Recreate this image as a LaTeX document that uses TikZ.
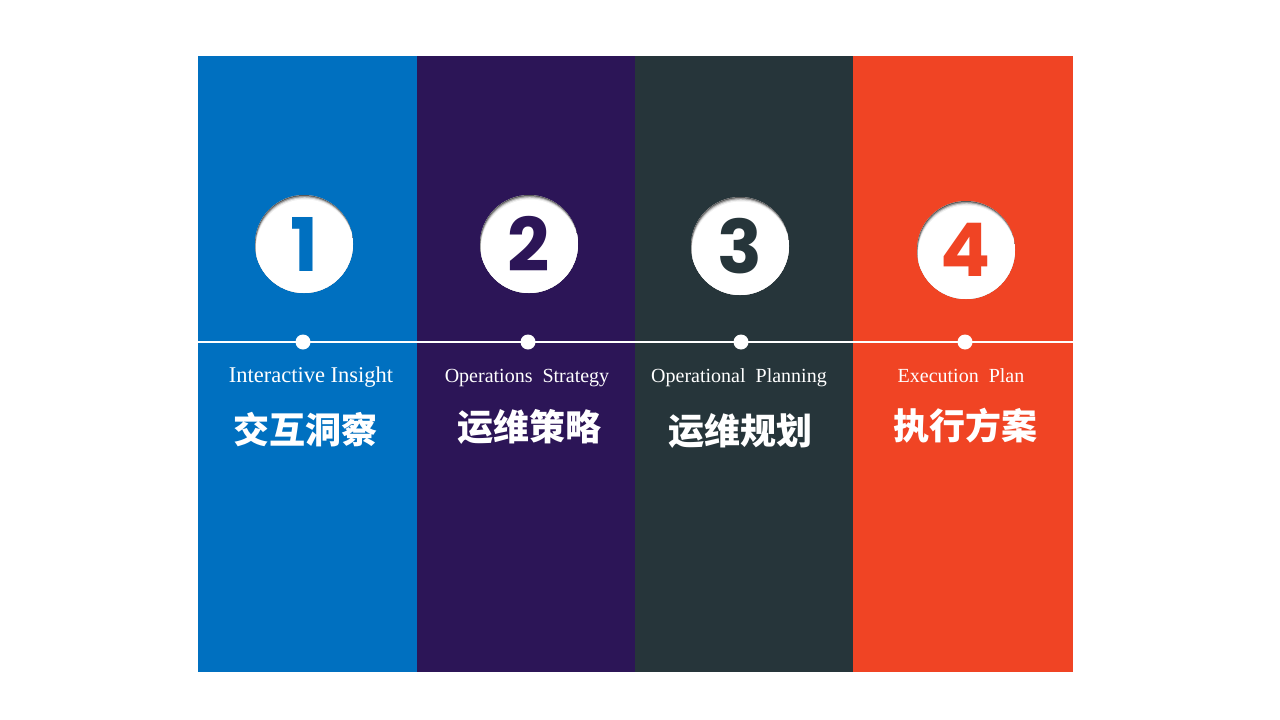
\documentclass[tikz,border=0pt]{standalone}
\usepackage{fontspec}
\setmainfont{Liberation Serif}
\newfontfamily\cjk{Noto Sans CJK SC}
\newfontfamily\numfont{Poppins}
\usepackage{xcolor}
\usepackage{tikz}
\usetikzlibrary{positioning}

\definecolor{stepblue}{HTML}{0070C0}
\definecolor{steppurple}{HTML}{2C1557}
\definecolor{stepslate}{HTML}{26353A}
\definecolor{stepred}{HTML}{F04424}

\begin{document}
\begin{tikzpicture}[
    x=1pt, y=-1pt,
    panel/.style={rectangle, draw=none, anchor=north west, inner sep=0pt, minimum width=219pt, minimum height=616pt},
    disc/.style={circle, fill=white, inner sep=0pt, minimum size=98pt, font=\numfont\bfseries\fontsize{74}{74}\selectfont,
        path picture={
            \fill[black!65] (path picture bounding box.center) circle[radius=52pt];
            \fill[black!40] ([shift={(0.3pt,-1pt)}]path picture bounding box.center) circle[radius=49pt];
            \fill[black!18] ([shift={(0.6pt,-2.2pt)}]path picture bounding box.center) circle[radius=49pt];
            \fill[black!6] ([shift={(0.8pt,-3.3pt)}]path picture bounding box.center) circle[radius=49pt];
            \fill[white] ([shift={(1pt,-4.5pt)}]path picture bounding box.center) circle[radius=49pt];
        }},
    dot/.style={circle, fill=white, inner sep=0pt, minimum size=15pt},
    en/.style={text=white, anchor=base, inner sep=0pt, font=\fontsize{20}{24}\selectfont},
    zh/.style={text=white, anchor=base, inner sep=0pt, font=\cjk\bfseries\fontsize{36}{40}\selectfont}
]

\useasboundingbox[fill=white] (0,0) rectangle (1280,720);

% Panels
\node[panel, fill=stepblue] (p1) at (198,56) {};
\node[panel, fill=steppurple] (p2) at (417,56) {};
\node[panel, fill=stepslate] (p3) at (635,56) {};
\node[panel, fill=stepred, minimum width=220pt] (p4) at (853,56) {};

% Numbered discs
\node[disc, text=stepblue] (n1) at (304,244) {1};
\node[disc, text=steppurple] (n2) at (529,244) {2};
\node[disc, text=stepslate] (n3) at (740,246) {3};
\node[disc, text=stepred] (n4) at (966,250) {4};

% Timeline
\coordinate (lineL) at (198,342);
\coordinate (lineR) at (1073,342);
\draw[white, line width=1.2pt] (lineL) -- (lineR);
\node[dot] (d1) at (303,342) {};
\node[dot] (d2) at (528,342) {};
\node[dot] (d3) at (741,342) {};
\node[dot] (d4) at (965,342) {};

% English titles
\node[en, font=\fontsize{22.5}{26}\selectfont] (e1) at (311,382) {Interactive Insight};
\node[en] (e2) at (527,382) {Operations~~Strategy};
\node[en] (e3) at (739,382) {Operational~~Planning};
\node[en] (e4) at (961,382) {Execution~~Plan};

% Chinese titles
\node[zh] (c1) at (305,443) {交互洞察};
\node[zh] (c2) at (529,440) {运维策略};
\node[zh] (c3) at (740,444) {运维规划};
\node[zh] (c4) at (965,439) {执行方案};

\end{tikzpicture}
\end{document}
